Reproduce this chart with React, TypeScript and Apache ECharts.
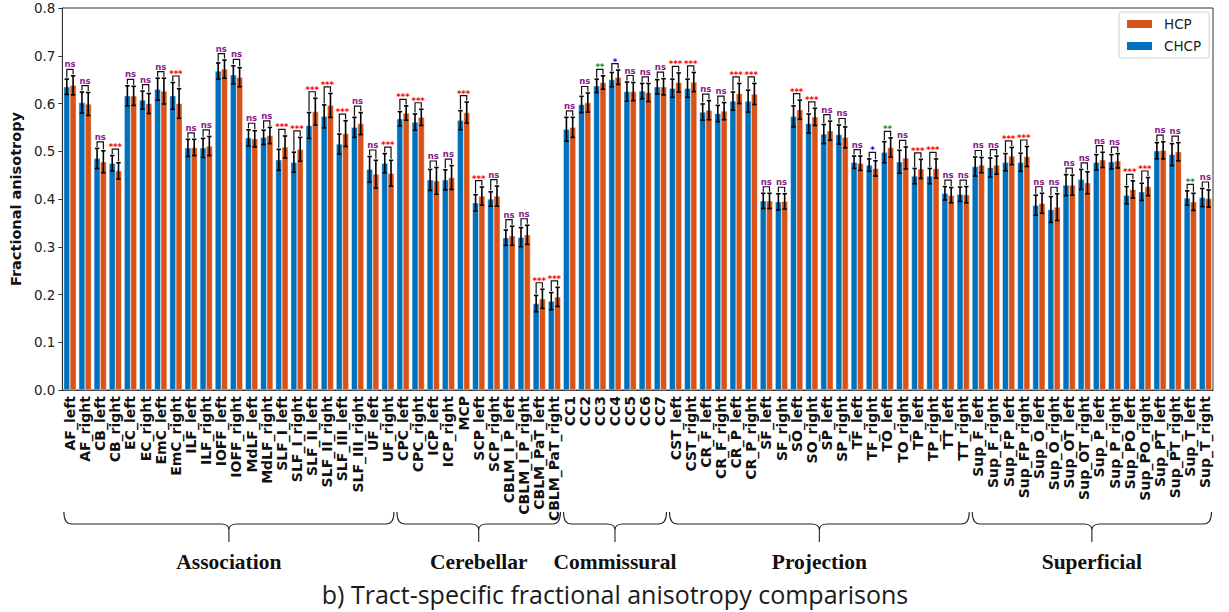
import React, { useEffect, useRef } from 'react';
import * as echarts from 'echarts';

// Tract names, in plotting order
const categories = [
  'AF_left', 'AF_right', 'CB_left', 'CB_right', 'EC_left', 'EC_right', 'EmC_left', 'EmC_right',
  'ILF_left', 'ILF_right', 'IOFF_left', 'IOFF_right', 'MdLF_left', 'MdLF_right', 'SLF_I_left', 'SLF_I_right',
  'SLF_II_left', 'SLF_II_right', 'SLF_III_left', 'SLF_III_right', 'UF_left', 'UF_right',
  'CPC_left', 'CPC_right', 'ICP_left', 'ICP_right', 'MCP', 'SCP_left', 'SCP_right',
  'CBLM_I_P_left', 'CBLM_I_P_right', 'CBLM_PaT_left', 'CBLM_PaT_right',
  'CC1', 'CC2', 'CC3', 'CC4', 'CC5', 'CC6', 'CC7',
  'CST_left', 'CST_right', 'CR_F_left', 'CR_F_right', 'CR_P_left', 'CR_P_right', 'SF_left', 'SF_right',
  'SO_left', 'SO_right', 'SP_left', 'SP_right', 'TF_left', 'TF_right', 'TO_left', 'TO_right',
  'TP_left', 'TP_right', 'TT_left', 'TT_right',
  'Sup_F_left', 'Sup_F_right', 'Sup_FP_left', 'Sup_FP_right', 'Sup_O_left', 'Sup_O_right',
  'Sup_OT_left', 'Sup_OT_right', 'Sup_P_left', 'Sup_P_right', 'Sup_PO_left', 'Sup_PO_right',
  'Sup_PT_left', 'Sup_PT_right', 'Sup_T_left', 'Sup_T_right',
];

// Mean FA per tract
const chcpMean = [
  0.635, 0.602, 0.485, 0.475, 0.616, 0.607, 0.630, 0.616, 0.507, 0.507, 0.668, 0.660, 0.528, 0.529,
  0.482, 0.477, 0.554, 0.573, 0.515, 0.550, 0.462, 0.475,
  0.568, 0.561, 0.440, 0.440, 0.565, 0.392, 0.400, 0.319, 0.320, 0.181, 0.186,
  0.546, 0.598, 0.637, 0.650, 0.625, 0.626, 0.635,
  0.632, 0.632, 0.582, 0.579, 0.605, 0.605, 0.396, 0.394, 0.573, 0.558, 0.536, 0.535,
  0.477, 0.471, 0.498, 0.478, 0.448, 0.448, 0.412, 0.410,
  0.468, 0.466, 0.477, 0.477, 0.387, 0.378, 0.429, 0.441, 0.477, 0.478, 0.408, 0.415,
  0.501, 0.493, 0.402, 0.403,
];
const hcpMean = [
  0.638, 0.599, 0.478, 0.459, 0.616, 0.600, 0.626, 0.600, 0.508, 0.511, 0.672, 0.655, 0.526, 0.533,
  0.509, 0.504, 0.583, 0.596, 0.537, 0.558, 0.452, 0.454,
  0.580, 0.571, 0.438, 0.445, 0.581, 0.406, 0.406, 0.323, 0.325, 0.191, 0.195,
  0.550, 0.602, 0.644, 0.655, 0.625, 0.623, 0.635,
  0.644, 0.645, 0.586, 0.584, 0.621, 0.620, 0.396, 0.395, 0.587, 0.572, 0.543, 0.529,
  0.475, 0.464, 0.508, 0.486, 0.463, 0.464, 0.408, 0.409,
  0.471, 0.471, 0.490, 0.489, 0.391, 0.383, 0.429, 0.434, 0.482, 0.480, 0.420, 0.426,
  0.502, 0.499, 0.394, 0.401,
];

// Standard deviations (error bar half-lengths)
const chcpErr = [
  0.016, 0.022, 0.021, 0.016, 0.021, 0.019, 0.023, 0.028, 0.018, 0.020, 0.017, 0.019, 0.017, 0.015,
  0.022, 0.021, 0.027, 0.024, 0.021, 0.021, 0.027, 0.020,
  0.015, 0.017, 0.022, 0.021, 0.020, 0.017, 0.015, 0.016, 0.020, 0.017, 0.018,
  0.025, 0.017, 0.014, 0.015, 0.020, 0.016, 0.015,
  0.019, 0.019, 0.017, 0.017, 0.019, 0.023, 0.016, 0.017, 0.022, 0.020, 0.020, 0.020,
  0.013, 0.013, 0.022, 0.024, 0.016, 0.016, 0.014, 0.015,
  0.020, 0.020, 0.018, 0.019, 0.021, 0.027, 0.022, 0.021, 0.016, 0.015, 0.018, 0.018,
  0.017, 0.023, 0.015, 0.019,
];
const hcpErr = [
  0.020, 0.024, 0.023, 0.017, 0.020, 0.021, 0.027, 0.031, 0.017, 0.020, 0.019, 0.020, 0.017, 0.017,
  0.023, 0.025, 0.028, 0.025, 0.027, 0.023, 0.029, 0.027,
  0.015, 0.017, 0.028, 0.025, 0.022, 0.019, 0.021, 0.020, 0.020, 0.020, 0.020,
  0.021, 0.020, 0.014, 0.015, 0.019, 0.019, 0.017,
  0.020, 0.020, 0.020, 0.018, 0.021, 0.022, 0.016, 0.016, 0.020, 0.018, 0.020, 0.022,
  0.015, 0.016, 0.020, 0.023, 0.020, 0.020, 0.016, 0.017,
  0.016, 0.019, 0.018, 0.021, 0.021, 0.028, 0.021, 0.023, 0.016, 0.015, 0.018, 0.019,
  0.018, 0.019, 0.018, 0.018,
];

// Group comparison result per tract
const significance = [
  'ns', 'ns', 'ns', '***', 'ns', 'ns', 'ns', '***', 'ns', 'ns', 'ns', 'ns', 'ns', 'ns',
  '***', '***', '***', '***', '***', 'ns', 'ns', '***',
  '***', '***', 'ns', 'ns', '***', '***', 'ns', 'ns', 'ns', '***', '***',
  'ns', 'ns', '**', '*', 'ns', 'ns', 'ns',
  '***', '***', 'ns', 'ns', '***', '***', 'ns', 'ns', '***', '***', 'ns', 'ns',
  'ns', '*', '**', 'ns', '***', '***', 'ns', 'ns',
  'ns', 'ns', '***', '***', 'ns', 'ns', 'ns', 'ns', 'ns', 'ns', '***', '***',
  'ns', 'ns', '**', 'ns',
];

const groupNames = ['Association', 'Cerebellar', 'Commissural', 'Projection', 'Superficial'];
const groupSizes = [22, 11, 7, 20, 16];

const BLUE = '#0072BD';
const ORANGE = '#D95319';
const SIG_COLORS: Record<string, string> = { ns: '#8B1A8B', '***': '#FF0000', '**': '#1A8A1A', '*': '#0000FF' };
const CATEGORY_GAP = 0.17;

// Curly brace used to mark tract groups under the axis labels
const Brace = echarts.graphic.extendShape({
  shape: { x1: 0, x2: 0, y: 0, h1: 12, h2: 30, r: 8 },
  buildPath(ctx: any, s: any) {
    const xm = (s.x1 + s.x2) / 2;
    const yh = s.y + s.h1;
    ctx.moveTo(s.x1, s.y);
    ctx.quadraticCurveTo(s.x1, yh, s.x1 + s.r, yh);
    ctx.lineTo(xm - s.r, yh);
    ctx.quadraticCurveTo(xm, yh, xm, yh + 6);
    ctx.lineTo(xm, s.y + s.h2);
    ctx.moveTo(xm, yh + 6);
    ctx.quadraticCurveTo(xm, yh, xm + s.r, yh);
    ctx.lineTo(s.x2 - s.r, yh);
    ctx.quadraticCurveTo(s.x2, yh, s.x2, s.y);
  },
});
echarts.graphic.registerShape('brace', Brace);

function renderErrorAndSig(params: any, api: any) {
  const i = api.value(0);
  const cx = api.coord([i, 0])[0];
  const band = api.size([1, 0])[0];
  const bw = (band * (1 - CATEGORY_GAP)) / 2;
  const xs = [cx - bw / 2, cx + bw / 2];
  const means = [chcpMean[i], hcpMean[i]];
  const errs = [chcpErr[i], hcpErr[i]];
  const children: any[] = [];
  const tops: number[] = [];
  const cap = 2.2;
  for (let k = 0; k < 2; k++) {
    const yTop = api.coord([i, means[k] + errs[k]])[1];
    const yBot = api.coord([i, means[k] - errs[k]])[1];
    tops.push(yTop);
    const st = { stroke: '#000', lineWidth: 1.6 };
    children.push({ type: 'line', shape: { x1: xs[k], y1: yTop, x2: xs[k], y2: yBot }, style: st });
    children.push({ type: 'line', shape: { x1: xs[k] - cap, y1: yTop, x2: xs[k] + cap, y2: yTop }, style: st });
    children.push({ type: 'line', shape: { x1: xs[k] - cap, y1: yBot, x2: xs[k] + cap, y2: yBot }, style: st });
  }
  const yb = Math.min(tops[0], tops[1]) - 6.5;
  children.push({
    type: 'polyline',
    shape: { points: [[xs[0], tops[0] - 1.5], [xs[0], yb], [xs[1], yb], [xs[1], tops[1] - 1.5]] },
    style: { stroke: '#111', lineWidth: 1.2, fill: 'none' },
  });
  const sig = significance[i];
  const isNs = sig === 'ns';
  children.push({
    type: 'text',
    style: {
      text: sig,
      x: cx,
      y: yb - (isNs ? 0.5 : -2.5),
      align: 'center',
      verticalAlign: 'bottom',
      fill: SIG_COLORS[sig],
      fontSize: isNs ? 8.5 : 8.5,
      fontWeight: 'bold',
      fontFamily: 'DejaVu Sans',
    },
  });
  return { type: 'group', children };
}

export default function App() {
  const ref = useRef<HTMLDivElement>(null);

  useEffect(() => {
    if (!ref.current) return;
    const chart = echarts.init(ref.current, null, { renderer: 'svg' });
    const option: any = {
      animation: false,
      backgroundColor: '#fff',
      grid: { left: 62, right: 16, top: 8, bottom: 222, show: true, borderColor: '#333', borderWidth: 1 },
      legend: {
        data: ['HCP', 'CHCP'],
        orient: 'vertical',
        left: 1119,
        top: 12,
        icon: 'rect',
        itemWidth: 27,
        itemHeight: 10,
        itemGap: 8,
        padding: [5, 8, 5, 6],
        borderColor: '#cfcfcf',
        borderWidth: 1,
        borderRadius: 3,
        backgroundColor: '#fff',
        textStyle: { fontSize: 13.5, fontFamily: 'DejaVu Sans', color: '#222', padding: [0, 0, 0, 6] },
      },
      xAxis: {
        type: 'category',
        data: categories,
        axisLine: { lineStyle: { color: '#333', width: 1 } },
        axisTick: { alignWithLabel: true, interval: 0, length: 4, lineStyle: { color: '#333' } },
        axisLabel: {
          interval: 0,
          rotate: 90,
          margin: 6,
          fontSize: 14,
          fontWeight: 'bold',
          fontFamily: 'DejaVu Sans',
          color: '#111',
        },
      },
      yAxis: {
        type: 'value',
        min: 0,
        max: 0.8,
        interval: 0.1,
        name: 'Fractional anisotropy',
        nameLocation: 'middle',
        nameGap: 36,
        nameTextStyle: { fontSize: 14.5, fontWeight: 'bold', fontFamily: 'DejaVu Sans', color: '#111' },
        axisLine: { show: true, lineStyle: { color: '#333' } },
        axisTick: { show: true, length: 4, lineStyle: { color: '#333' } },
        splitLine: { show: false },
        axisLabel: {
          fontSize: 13.5,
          color: '#222',
          fontFamily: 'DejaVu Sans',
          margin: 7,
          formatter: (v: number) => v.toFixed(1),
        },
      },
      series: [
        {
          name: 'CHCP',
          type: 'bar',
          data: chcpMean,
          barGap: '0%',
          barCategoryGap: CATEGORY_GAP * 100 + '%',
          itemStyle: { color: BLUE, borderColor: '#fff', borderWidth: 0.4 },
        },
        {
          name: 'HCP',
          type: 'bar',
          data: hcpMean,
          itemStyle: { color: ORANGE, borderColor: '#fff', borderWidth: 0.4 },
        },
        {
          type: 'custom',
          silent: true,
          z: 10,
          renderItem: renderErrorAndSig,
          encode: { x: 0, y: 1 },
          data: categories.map((_, i) => [i, Math.max(chcpMean[i], hcpMean[i])]),
        },
      ],
    };
    chart.setOption(option);

    // Group braces and labels under the tick labels, placed from the category axis
    const band = (chart.convertToPixel({ xAxisIndex: 0 }, categories[1]) as number) -
      (chart.convertToPixel({ xAxisIndex: 0 }, categories[0]) as number);
    const graphics: any[] = [];
    let start = 0;
    groupSizes.forEach((size, g) => {
      const first = chart.convertToPixel({ xAxisIndex: 0 }, categories[start]) as number;
      const last = chart.convertToPixel({ xAxisIndex: 0 }, categories[start + size - 1]) as number;
      const x1 = first - band / 2 + 1.5;
      const x2 = last + band / 2 - 1.5;
      graphics.push({
        type: 'brace',
        shape: { x1, x2, y: 512, h1: 12, h2: 30, r: 8 },
        style: { stroke: '#222', lineWidth: 1.1, fill: 'none' },
        silent: true,
      });
      graphics.push({
        type: 'text',
        x: (x1 + x2) / 2,
        y: 562,
        style: {
          text: groupNames[g],
          align: 'center',
          verticalAlign: 'middle',
          fontSize: 21.5,
          fontWeight: 'bold',
          fontFamily: 'Liberation Serif',
          fill: '#111',
        },
        silent: true,
      });
      start += size;
    });
    graphics.push({
      type: 'text',
      x: 615,
      y: 594,
      style: {
        text: 'b) Tract-specific fractional anisotropy comparisons',
        align: 'center',
        verticalAlign: 'middle',
        fontSize: 25,
        fontFamily: 'Open Sans',
        fill: '#1a1a1a',
      },
      silent: true,
    });
    chart.setOption({ graphic: graphics });

    return () => chart.dispose();
  }, []);

  return (
    <div
      ref={ref}
      style={{ position: 'fixed', left: 0, top: 0, width: 1229, height: 612, background: '#fff' }}
    />
  );
}
